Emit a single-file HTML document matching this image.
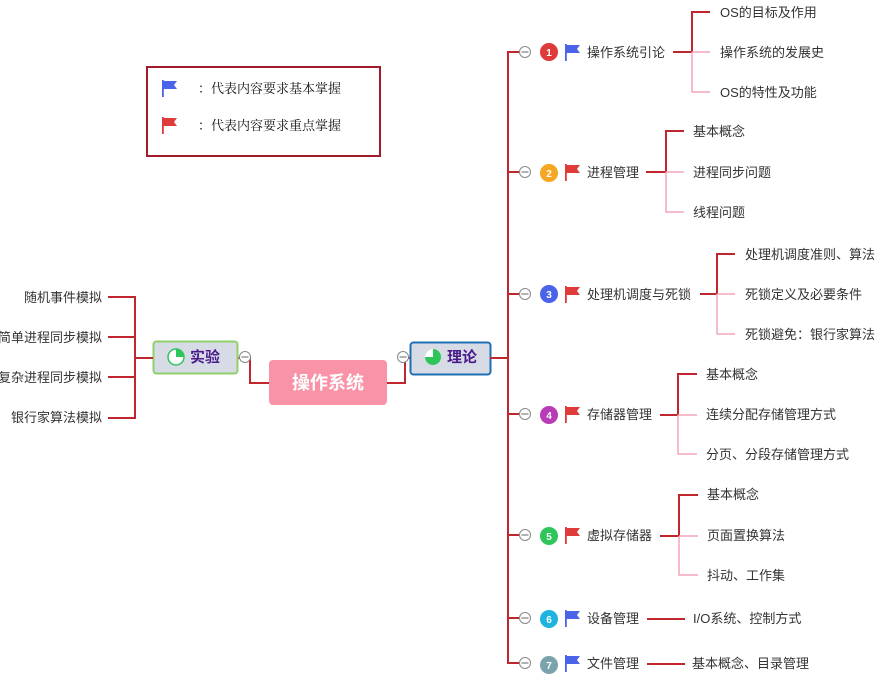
<!DOCTYPE html>
<html><head><meta charset="utf-8"><style>
html,body{margin:0;padding:0;background:#fff;}
svg{display:block;}
text{font-family:"Liberation Sans","Noto Sans CJK SC",sans-serif;}
.l{font-size:13px;fill:#333;}
</style></head><body>
<svg width="879" height="678" viewBox="0 0 879 678" xmlns="http://www.w3.org/2000/svg">
<defs>
<g id="fb"><rect x="0" y="0" width="1.8" height="17" fill="#4a63e8"/><path d="M1.5 1 L15 1 L12 5 L15 9 L1.5 9 Z" fill="#4a63e8"/></g>
<g id="fr"><rect x="0" y="0" width="1.8" height="17" fill="#e03b3b"/><path d="M1.5 1 L15 1 L12 5 L15 9 L1.5 9 Z" fill="#e03b3b"/></g>
<g id="col"><circle r="5.5" fill="#fff" stroke="#888" stroke-width="1"/><line x1="-3.5" y1="0" x2="3.5" y2="0" stroke="#666" stroke-width="1"/></g>
</defs>

<!-- legend -->
<rect x="147" y="67" width="233" height="89" fill="#fff" stroke="#a01c2b" stroke-width="2"/>
<use href="#fb" x="162" y="80"/>
<use href="#fr" x="162" y="117"/>
<text x="198" y="93" style="font-family:'Liberation Serif','Noto Serif CJK SC',serif;font-size:13px;fill:#111">：代表内容要求基本掌握</text>
<text x="198" y="130" style="font-family:'Liberation Serif','Noto Serif CJK SC',serif;font-size:13px;fill:#111">：代表内容要求重点掌握</text>

<!-- central connections -->
<path d="M386 383 H405 V358 H410" fill="none" stroke="#c0262d" stroke-width="2"/>
<path d="M269 383 H250 V358 H238" fill="none" stroke="#c0262d" stroke-width="2"/>
<use href="#col" x="403" y="357"/>
<use href="#col" x="245" y="357"/>

<!-- central node -->
<rect x="269" y="360" width="118" height="45" rx="4" fill="#f893a8"/>
<text x="328" y="389" text-anchor="middle" style="font-size:18px;font-weight:bold;fill:#fff">操作系统</text>

<!-- 实验 node -->
<rect x="153.5" y="341.5" width="84" height="32" rx="3" fill="#d6dbe6" stroke="#8fd06a" stroke-width="2"/>
<circle cx="176" cy="357" r="8" fill="#fff" stroke="#2ec55a" stroke-width="1.5"/>
<path d="M176 357 V349 A8 8 0 0 1 184 357 Z" fill="#2ec55a"/>
<text x="190" y="362" style="font-size:15px;font-weight:bold;fill:#4a1a8a">实验</text>

<!-- 理论 node -->
<rect x="410.5" y="342.5" width="80" height="32" rx="3" fill="#d6dbe6" stroke="#1f6fb5" stroke-width="2"/>
<circle cx="433" cy="357" r="8" fill="#2ec55a"/>
<path d="M433 357 V349 A8 8 0 0 0 425 357 Z" fill="#fff"/>
<text x="447" y="362" style="font-size:15px;font-weight:bold;fill:#4a1a8a">理论</text>

<!-- left branches -->
<g fill="none" stroke="#c0262d" stroke-width="2">
<path d="M153 358 H135"/>
<path d="M108 297 H135 V418 H108"/>
<path d="M108 337 H135"/>
<path d="M108 377 H135"/>
</g>
<g class="l" text-anchor="end">
<text x="102" y="302">随机事件模拟</text>
<text x="102" y="342">简单进程同步模拟</text>
<text x="102" y="382">复杂进程同步模拟</text>
<text x="102" y="422">银行家算法模拟</text>
</g>

<!-- right trunk -->
<g fill="none" stroke="#c0262d" stroke-width="2">
<path d="M490 358 H508"/>
<path d="M519 52 H508 V663 H519"/>
<path d="M508 172 H519"/><path d="M508 294 H519"/><path d="M508 414 H519"/>
<path d="M508 535 H519"/><path d="M508 618 H519"/>
</g>
<use href="#col" x="525" y="52"/><use href="#col" x="525" y="172"/><use href="#col" x="525" y="294"/>
<use href="#col" x="525" y="414"/><use href="#col" x="525" y="535"/><use href="#col" x="525" y="618"/><use href="#col" x="525" y="663"/>

<g style="font-size:10px;font-weight:bold;fill:#fff" text-anchor="middle">
<circle cx="549" cy="52" r="9" fill="#e03b3b"/><text x="549" y="56">1</text>
<circle cx="549" cy="173" r="9" fill="#f5a623"/><text x="549" y="177">2</text>
<circle cx="549" cy="294" r="9" fill="#4a63e8"/><text x="549" y="298">3</text>
<circle cx="549" cy="415" r="9" fill="#b83bb8"/><text x="549" y="419">4</text>
<circle cx="549" cy="536" r="9" fill="#2ec55a"/><text x="549" y="540">5</text>
<circle cx="549" cy="619" r="9" fill="#1fb4e0"/><text x="549" y="623">6</text>
<circle cx="549" cy="665" r="9" fill="#7aa3ad"/><text x="549" y="669">7</text>
</g>
<use href="#fb" x="565" y="44"/>
<use href="#fr" x="565" y="164"/>
<use href="#fr" x="565" y="286"/>
<use href="#fr" x="565" y="406"/>
<use href="#fr" x="565" y="527"/>
<use href="#fb" x="565" y="610"/>
<use href="#fb" x="565" y="655"/>

<g class="l">
<text x="587" y="57">操作系统引论</text>
<text x="587" y="177">进程管理</text>
<text x="587" y="299">处理机调度与死锁</text>
<text x="587" y="419">存储器管理</text>
<text x="587" y="540">虚拟存储器</text>
<text x="587" y="623">设备管理</text>
<text x="587" y="668">文件管理</text>
</g>

<!-- sub branches -->
<g fill="none" stroke-width="2">
<!-- 1 -->
<path d="M673 52 H692" stroke="#c0262d"/>
<path d="M710 12 H692 V52" stroke="#c0262d"/>
<path d="M692 52 V92 H710 M692 52 H710" stroke="#f4a6b8" stroke-width="1.5"/>
<!-- 2 -->
<path d="M646 172 H666" stroke="#c0262d"/>
<path d="M684 131 H666 V172" stroke="#c0262d"/>
<path d="M666 172 V212 H684 M666 172 H684" stroke="#f4a6b8" stroke-width="1.5"/>
<!-- 3 -->
<path d="M700 294 H717" stroke="#c0262d"/>
<path d="M735 254 H717 V294" stroke="#c0262d"/>
<path d="M717 294 V334 H735 M717 294 H735" stroke="#f4a6b8" stroke-width="1.5"/>
<!-- 4 -->
<path d="M660 415 H678" stroke="#c0262d"/>
<path d="M697 374 H678 V415" stroke="#c0262d"/>
<path d="M678 415 V454 H697 M678 415 H697" stroke="#f4a6b8" stroke-width="1.5"/>
<!-- 5 -->
<path d="M660 536 H679" stroke="#c0262d"/>
<path d="M698 495 H679 V536" stroke="#c0262d"/>
<path d="M679 536 V575 H698 M679 536 H698" stroke="#f4a6b8" stroke-width="1.5"/>
<!-- 6,7 -->
<path d="M647 619 H685" stroke="#c0262d"/>
<path d="M647 664 H685" stroke="#c0262d"/>
</g>

<g class="l">
<text x="720" y="17">OS的目标及作用</text>
<text x="720" y="57">操作系统的发展史</text>
<text x="720" y="97">OS的特性及功能</text>
<text x="693" y="136">基本概念</text>
<text x="693" y="177">进程同步问题</text>
<text x="693" y="217">线程问题</text>
<text x="745" y="259">处理机调度准则、算法</text>
<text x="745" y="299">死锁定义及必要条件</text>
<text x="745" y="339">死锁避免：银行家算法</text>
<text x="706" y="379">基本概念</text>
<text x="706" y="419">连续分配存储管理方式</text>
<text x="706" y="459">分页、分段存储管理方式</text>
<text x="707" y="499">基本概念</text>
<text x="707" y="540">页面置换算法</text>
<text x="707" y="580">抖动、工作集</text>
<text x="693" y="623">I/O系统、控制方式</text>
<text x="692" y="668">基本概念、目录管理</text>
</g>
</svg>
</body></html>
